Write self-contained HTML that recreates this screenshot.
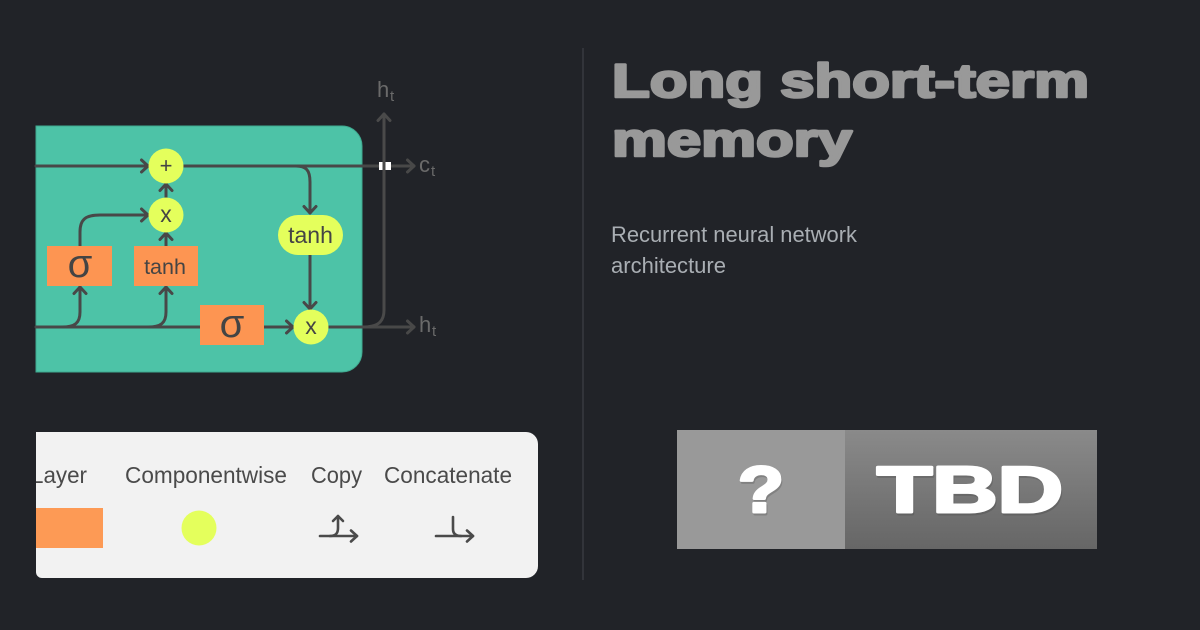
<!DOCTYPE html>
<html><head><meta charset="utf-8"><style>
html,body{margin:0;padding:0;background:#212328;}
svg{display:block;}
</style></head><body>
<svg width="1200" height="630" viewBox="0 0 1200 630" xmlns="http://www.w3.org/2000/svg" font-family="Liberation Sans, sans-serif">
<defs>
<linearGradient id="g" x1="0" y1="0" x2="0" y2="1">
<stop offset="0" stop-color="#8a8a8a"/><stop offset="1" stop-color="#666"/>
</linearGradient>
<clipPath id="lc"><rect x="36" y="420" width="520" height="170"/></clipPath>
</defs>
<rect width="1200" height="630" fill="#212328"/>
<line x1="583" y1="48" x2="583" y2="580" stroke="#383b40" stroke-width="1.5"/>

<!-- teal cell -->
<path d="M36,126 H342 A20,20 0 0 1 362,146 V352 A20,20 0 0 1 342,372 H36 Z" fill="#4dc3a7" stroke="#3fa88f" stroke-width="1"/>

<g stroke="#484848" stroke-width="3" fill="none" stroke-linecap="round" stroke-linejoin="round">
<!-- cell state -->
<path d="M36,166 H148"/><path d="M141.5,160 L148,166 L141.5,172"/>
<path d="M184,166 H414"/><path d="M407.5,160 L414,166 L407.5,172"/>
<path d="M296,166 C306,166 310,170 310,182 V213"/><path d="M304,206.5 L310,213 L316,206.5"/>
<path d="M310,255 V309"/><path d="M304,302.5 L310,309 L316,302.5"/>
<!-- bottom -->
<path d="M36,327 H200"/>
<path d="M264,327 H293"/><path d="M286.5,321 L293,327 L286.5,333"/>
<path d="M329,327 H414"/><path d="M407.5,321 L414,327 L407.5,333"/>
<path d="M62,327 C75,327 80,323 80,312 V287"/><path d="M74,293.5 L80,287 L86,293.5"/>
<path d="M148,327 C161,327 166,323 166,312 V287"/><path d="M160,293.5 L166,287 L172,293.5"/>
<path d="M80,246 V232 C80,219 86,215 100,215 H148"/><path d="M141.5,209 L148,215 L141.5,221"/>
<path d="M166,246 V233"/><path d="M160,239.5 L166,233 L172,239.5"/>
<path d="M166,197 V184"/><path d="M160,190.5 L166,184 L172,190.5"/>
</g>
<rect x="379" y="162" width="12" height="8" fill="#ffffff"/>
<g stroke="#4a4a4a" stroke-width="3" fill="none" stroke-linecap="round" stroke-linejoin="round">
<path d="M362,327 C378,327 384,322 384,310 V114"/><path d="M378,120.5 L384,114 L390,120.5"/>
</g>

<!-- nodes -->
<circle cx="166" cy="166" r="17.5" fill="#e4ff5c"/>
<circle cx="166" cy="215" r="17.5" fill="#e4ff5c"/>
<circle cx="311" cy="327" r="17.5" fill="#e4ff5c"/>
<rect x="278" y="215" width="65" height="40" rx="20" fill="#e4ff5c"/>
<rect x="47" y="246" width="65" height="40" fill="#fd9552"/>
<rect x="134" y="246" width="64" height="40" fill="#fd9552"/>
<rect x="200" y="305" width="64" height="40" fill="#fd9552"/>

<g fill="#444" text-anchor="middle">
<text x="166" y="173" font-size="22">+</text>
<text x="166" y="222" font-size="23">x</text>
<text x="311" y="334" font-size="23">x</text>
<text x="310.5" y="243" font-size="23">tanh</text>
<text x="165" y="274" font-size="21.5">tanh</text>
<text x="80" y="277" font-size="40">σ</text>
<text x="232" y="337" font-size="40">σ</text>
</g>

<g fill="#6a6a6a">
<text x="377" y="97" font-size="22">h</text><text x="390" y="101" font-size="15">t</text>
<text x="419" y="172" font-size="22">c</text><text x="431" y="176" font-size="15">t</text>
<text x="419" y="332" font-size="22">h</text><text x="432" y="336" font-size="15">t</text>
</g>

<!-- legend -->
<path d="M36,432 H526 A12,12 0 0 1 538,444 V566 A12,12 0 0 1 526,578 H42 A6,6 0 0 1 36,572 Z" fill="#f2f2f2"/>
<g clip-path="url(#lc)" fill="#4a4a4a" font-size="23">
<text x="31" y="483" textLength="56" lengthAdjust="spacingAndGlyphs">Layer</text>
<text x="125" y="483" textLength="162" lengthAdjust="spacingAndGlyphs">Componentwise</text>
<text x="311" y="483" textLength="51" lengthAdjust="spacingAndGlyphs">Copy</text>
<text x="384" y="483" textLength="128" lengthAdjust="spacingAndGlyphs">Concatenate</text>
</g>
<rect x="36" y="508" width="67" height="40" fill="#fd9a55"/>
<circle cx="199" cy="528" r="17.5" fill="#e4ff5c"/>
<g stroke="#4a4a4a" stroke-width="2.6" fill="none" stroke-linecap="round" stroke-linejoin="round">
<path d="M320,536 H357"/><path d="M351,530.5 L357,536 L351,541.5"/>
<path d="M330,536 C336,536 338,533 338,528 V516"/><path d="M333,521 L338,516 L343,521"/>
<path d="M436,536 H473"/><path d="M467,530.5 L473,536 L467,541.5"/>
<path d="M453,517 V529 C453,534 456,536 461,536"/>
</g>

<!-- title -->
<g fill="#999999" stroke="#999999" stroke-width="2.6" stroke-linejoin="round" font-weight="bold" font-size="47">
<text x="612" y="97" textLength="477" lengthAdjust="spacingAndGlyphs">Long short-term</text>
<text x="612" y="156" textLength="240" lengthAdjust="spacingAndGlyphs">memory</text>
</g>
<g fill="#a9aeb3" font-size="22">
<text x="611" y="242" textLength="246" lengthAdjust="spacingAndGlyphs">Recurrent neural network</text>
<text x="611" y="273" textLength="115" lengthAdjust="spacingAndGlyphs">architecture</text>
</g>

<!-- TBD badge -->
<rect x="677" y="430" width="168" height="119" fill="#999999"/>
<rect x="845" y="430" width="252" height="119" fill="url(#g)"/>
<g font-weight="bold" font-size="65" stroke-linejoin="round">
<text x="739" y="514" fill="#000" stroke="#000" stroke-width="3" opacity="0.15" textLength="46" lengthAdjust="spacingAndGlyphs">?</text>
<text x="738" y="512" fill="#ffffff" stroke="#ffffff" stroke-width="3" textLength="46" lengthAdjust="spacingAndGlyphs">?</text>
<text x="878" y="514" fill="#000" stroke="#000" stroke-width="3" opacity="0.12" textLength="186" lengthAdjust="spacingAndGlyphs">TBD</text>
<text x="877" y="512" fill="#ffffff" stroke="#ffffff" stroke-width="3" textLength="186" lengthAdjust="spacingAndGlyphs">TBD</text>
</g>
</svg>
</body></html>
